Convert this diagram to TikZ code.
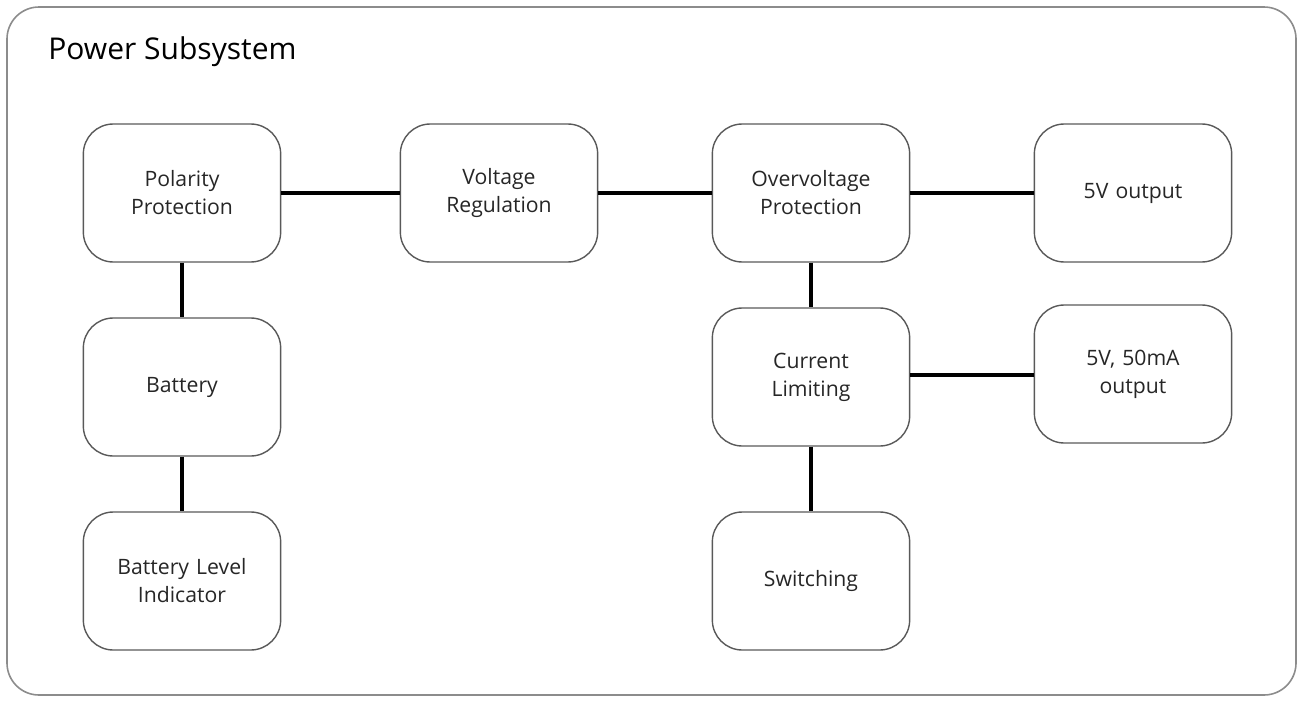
\documentclass[tikz,border=0pt]{standalone}
\usepackage{fontspec}
\setmainfont{Open Sans}
\usepackage{xcolor}
\usetikzlibrary{positioning}

\begin{document}
\begin{tikzpicture}[
    x=0.5pt, y=-0.5pt,
    block/.style={rectangle, draw=black!65, line width=0.7pt, rounded corners=15pt,
                  minimum width=98pt, minimum height=69pt, align=center,
                  text width=92pt, font=\fontsize{10.6}{14}\selectfont, text=black!85},
    wire/.style={line width=1.7pt, black},
    title/.style={anchor=west, inner sep=0pt, font=\fontsize{15}{17}\selectfont}
]
\useasboundingbox (0,0) rectangle (1302,702);
\draw[black!45, line width=0.8pt, rounded corners=16pt] (7,7) rectangle (1296,695);
\node[title] (ttl) at (48,52) {Power Subsystem};

\node[block] (pol) at (182,193)  {Polarity\\Protection};
\node[block] (vr)  at (499,193)  {Voltage\\Regulation};
\node[block] (ovp) at (811,193)  {Overvoltage\\Protection};
\node[block] (out) at (1133,193) {5V output};
\node[block] (bat) at (182,387)  {Battery};
\node[block] (bli) at (182,581)  {Battery Level\\Indicator};
\node[block] (cl)  at (811,377)  {Current\\Limiting};
\node[block] (lim) at (1133,374) {5V, 50mA\\output};
\node[block] (sw)  at (811,581)  {Switching};

\draw[wire] (pol) -- (vr);
\draw[wire] (vr)  -- (ovp);
\draw[wire] (ovp) -- (out);
\draw[wire] (pol) -- (bat);
\draw[wire] (bat) -- (bli);
\draw[wire] (ovp) -- (cl);
\draw[wire] (cl.east |- 0,375) -- (lim.west |- 0,375);
\draw[wire] (cl)  -- (sw);
\end{tikzpicture}
\end{document}
